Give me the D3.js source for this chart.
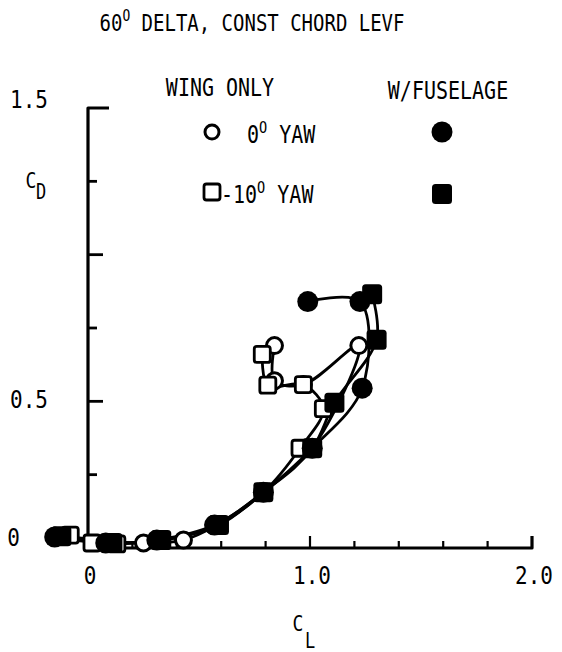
<!DOCTYPE html>
<html>
<head>
<meta charset="utf-8">
<script src="https://cdn.jsdelivr.net/npm/d3@7"></script>
<style>
  body { margin: 0; background: #fff; }
  svg text { font-family: "DejaVu Sans Mono", "Liberation Mono", monospace; fill: #000; }
</style>
</head>
<body>
<svg id="chart" width="562" height="652"></svg>
<script>
// Drag polar, CD vs CL. Each series is a list of [CL, CD] pairs.
const wingOnlyYaw0 = [
  [-0.10, 0.040], [0.25, 0.017], [0.43, 0.027], [0.58, 0.078], [0.79, 0.19],
  [1.01, 0.34], [1.22, 0.69], [0.97, 0.557], [0.84, 0.57], [0.84, 0.69]
];
const wingOnlyYawM10 = [
  [-0.08, 0.044], [0.018, 0.017], [0.13, 0.014], [0.33, 0.025], [0.58, 0.078],
  [0.79, 0.19], [0.955, 0.34], [1.06, 0.475], [0.97, 0.557], [0.81, 0.555], [0.785, 0.66]
];
const fuselageYaw0 = [
  [-0.15, 0.0375], [0.08, 0.017], [0.31, 0.027], [0.57, 0.078], [0.79, 0.19],
  [1.01, 0.34], [1.235, 0.545], [1.225, 0.84], [0.99, 0.84]
];
const fuselageYawM10 = [
  [-0.12, 0.040], [0.11, 0.017], [0.33, 0.027], [0.59, 0.078], [0.79, 0.19],
  [1.01, 0.34], [1.11, 0.495], [1.30, 0.71], [1.28, 0.865]
];

const xTickValues = [0.2, 0.4, 0.6, 0.8, 1.0, 1.2, 1.4, 1.6, 1.8];
const xMajorTicks = [1.0];
const xTickLabels = [{ v: 0, t: "0" }, { v: 1, t: "1.0" }, { v: 2, t: "2.0" }];
const yTickValues = [0.25, 0.5, 0.75, 1.0, 1.25];
const yMajorTicks = [0.5, 1.0];
const yTickLabels = [{ v: 0, t: "0" }, { v: 0.5, t: "0.5" }, { v: 1.5, t: "1.5" }];

const svg = d3.select("#chart");
const x = d3.scaleLinear().domain([0, 2]).range([88, 532]);
const y = d3.scaleLinear().domain([0, 1.5]).range([548, 108]);

// Text helper: typewriter-style lettering, slightly tall
function label(gx, gy, anchor, size, parts) {
  const g = svg.append("g").attr("transform", `translate(${gx},${gy}) scale(1,1.2)`);
  const t = g.append("text").attr("text-anchor", anchor).attr("font-size", size);
  parts.forEach(p => {
    const s = t.append("tspan").text(p.t);
    if (p.sup) s.attr("font-size", size * 0.68).attr("dy", -size * 0.42);
    if (p.after) s.attr("dy", size * 0.42);
  });
  return t;
}

// Title
label(252, 31, "middle", 19, [
  { t: "60" }, { t: "O", sup: true }, { t: " DELTA, CONST CHORD LEVF", after: true }
]);

// Axes with bracket ends
const axisW = 3.2;
svg.append("path")
  .attr("d", `M${x(0) + 21},${y(1.5)} L${x(0)},${y(1.5)} L${x(0)},${y(0)} L${x(2)},${y(0)} L${x(2)},${y(0) - 12}`)
  .attr("fill", "none").attr("stroke", "#000").attr("stroke-width", axisW)
  .attr("stroke-linejoin", "round");

svg.append("g").selectAll("line").data(yTickValues).join("line")
  .attr("x1", x(0)).attr("x2", d => x(0) + (yMajorTicks.includes(d) ? 15 : 9))
  .attr("y1", d => y(d)).attr("y2", d => y(d))
  .attr("stroke", "#000").attr("stroke-width", 2.8);

svg.append("g").selectAll("line").data(xTickValues).join("line")
  .attr("x1", d => x(d)).attr("x2", d => x(d))
  .attr("y1", y(0)).attr("y2", d => y(0) - (xMajorTicks.includes(d) ? 12 : 7))
  .attr("stroke", "#000").attr("stroke-width", 2.2);

// Tick labels
xTickLabels.forEach(d => label(x(d.v) + 2, 584, "middle", 21, [{ t: d.t }]));
yTickLabels.forEach(d => {
  const yy = d.v === 0 ? 546 : y(d.v) + (d.v === 1.5 ? 0 : 7);
  label(d.v === 0 ? 20 : 48, yy, "end", 21, [{ t: d.t }]);
});

// Axis titles
label(31, 188, "middle", 18, [{ t: "C" }]);
label(41, 199, "middle", 17, [{ t: "D" }]);
label(298, 631, "middle", 18, [{ t: "C" }]);
label(310, 648, "middle", 17, [{ t: "L" }]);

// Faired curves through each series
const line = d3.line().x(d => x(d[0])).y(d => y(d[1])).curve(d3.curveCatmullRom.alpha(0.5));
[wingOnlyYaw0, wingOnlyYawM10, fuselageYaw0, fuselageYawM10].forEach(s => {
  svg.append("path").attr("d", line(s)).attr("fill", "none")
    .attr("stroke", "#000").attr("stroke-width", 2.8).attr("stroke-linejoin", "round");
});

// Symbols
function openCircle(sel, r) {
  return sel.append("circle").attr("r", r).attr("fill", "#fff").attr("stroke", "#000").attr("stroke-width", 3);
}
function openSquare(sel, s) {
  return sel.append("rect").attr("x", -s / 2).attr("y", -s / 2).attr("width", s).attr("height", s)
    .attr("rx", 2.5).attr("fill", "#fff").attr("stroke", "#000").attr("stroke-width", 2.8);
}
function filledCircle(sel, r) {
  return sel.append("circle").attr("r", r).attr("fill", "#000");
}
function filledSquare(sel, s) {
  return sel.append("rect").attr("x", -s / 2).attr("y", -s / 2).attr("width", s).attr("height", s)
    .attr("rx", 3.5).attr("fill", "#000");
}

function drawSeries(data, draw) {
  svg.append("g").selectAll("g").data(data).join("g")
    .attr("transform", d => `translate(${x(d[0])},${y(d[1])})`)
    .each(function () { draw(d3.select(this)); });
}
drawSeries(wingOnlyYaw0, g => openCircle(g, 8));
drawSeries(wingOnlyYawM10, g => openSquare(g, 16));
drawSeries(fuselageYaw0, g => filledCircle(g, 10.5));
drawSeries(fuselageYawM10, g => filledSquare(g, 20));

// Legend
label(220, 96, "middle", 20, [{ t: "WING ONLY" }]);
label(448, 99, "middle", 20, [{ t: "W/FUSELAGE" }]);
openCircle(svg.append("g").attr("transform", "translate(212,132)"), 7);
label(247, 143, "start", 20, [{ t: "0" }, { t: "O", sup: true }, { t: " YAW", after: true }]);
filledCircle(svg.append("g").attr("transform", "translate(442,132)"), 10.5);
openSquare(svg.append("g").attr("transform", "translate(212,192)"), 16);
label(221, 203, "start", 20, [{ t: "-10" }, { t: "O", sup: true }, { t: " YAW", after: true }]);
filledSquare(svg.append("g").attr("transform", "translate(442,194)"), 20);
</script>
</body>
</html>
